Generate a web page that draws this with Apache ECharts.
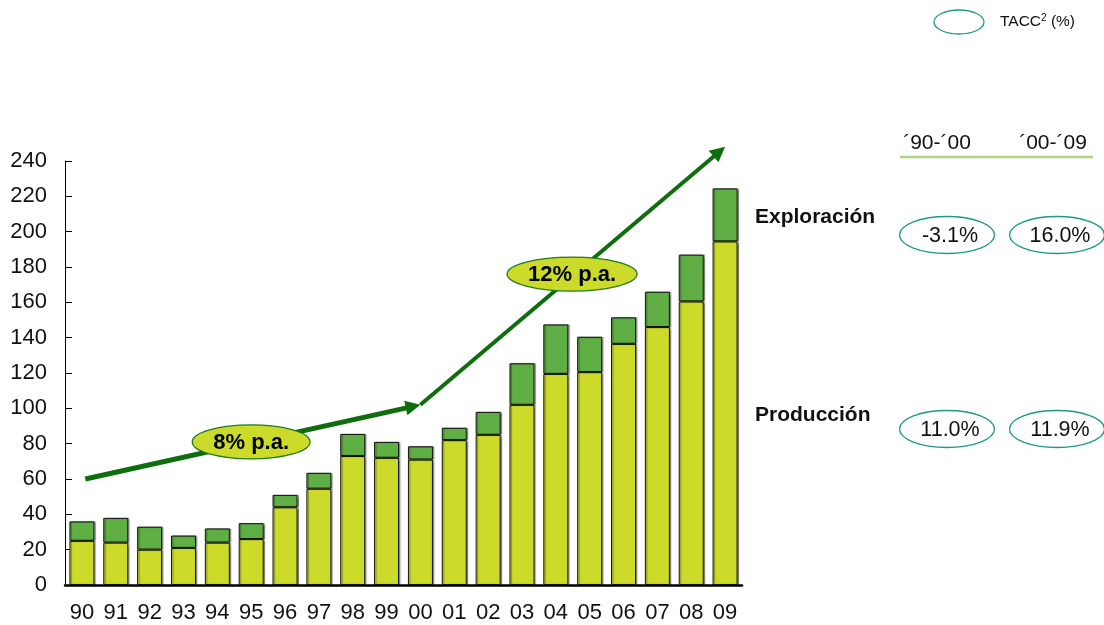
<!DOCTYPE html>
<html>
<head>
<meta charset="utf-8">
<script src="https://cdn.jsdelivr.net/npm/echarts@6/dist/echarts.min.js"></script>
<style>html,body{margin:0;padding:0;background:#fff}#c{width:1104px;height:625px}</style>
</head>
<body>
<div id="c"></div>
<script>
const years = ['90','91','92','93','94','95','96','97','98','99','00','01','02','03','04','05','06','07','08','09'];
const produccion = [25,24,20,21,24,26,44,54.5,73,72,71,82,85,102,119.5,120.5,136.5,146,160.5,194.5];
const exploracion = [11,14,13,7,8,9,7,9,12.5,9,7.5,7,13,23.5,28,20,15,20,26.5,30];
// growth arrows: [fromIndex, fromValue, toIndex, toValue]
const arrowSegments = [[0.1,60,10,102],[10,102,19,248]];
// growth bubbles: position in (category index, value)
const growthText = ['8% p.a.','12% p.a.'];
const growthX = [5,14.48];
const growthY = [81,176];
// TACC table
const taccTitle = 'TACC';
const taccPeriods = ['´90-´00','´00-´09'];
const taccRows = ['Exploración','Producción'];
const taccValues = [['-3.1%','16.0%'],['11.0%','11.9%']];

const FONT = 'Liberation Sans';
const DARK = '#0E6E0E';
const measureCtx = document.createElement('canvas').getContext('2d');
function textW(t, font){ measureCtx.font = font; return measureCtx.measureText(t).width; }

const chart = echarts.init(document.getElementById('c'), null, {renderer:'canvas'});

const graphics = [];
// legend
graphics.push({type:'ellipse', shape:{cx:959, cy:22, rx:25, ry:12}, style:{fill:'none', stroke:'#1C9A86', lineWidth:1.3}});
graphics.push({type:'text', x:1000, y:22, style:{text:'{a|'+taccTitle+'}{s|2}{a| (%)}', rich:{a:{fontFamily:FONT,fontSize:15.5,fill:'#111'}, s:{fontFamily:FONT,fontSize:10,fill:'#111',verticalAlign:'top',padding:[0,0,8,0]}}, verticalAlign:'middle'}});
// periods
const colX = [937, 1053];
const ellX = [947, 1057];
taccPeriods.forEach((p,i)=>{
  graphics.push({type:'text', x:colX[i], y:143, style:{text:p, fontFamily:FONT, fontSize:21, fill:'#111', align:'center', verticalAlign:'middle'}});
});
graphics.push({type:'line', shape:{x1:900, y1:157, x2:1093, y2:157}, style:{stroke:'#AAD583', lineWidth:2.5}});
const rowLabelY = [217, 415];
const rowEllY = [235, 429];
taccRows.forEach((r,j)=>{
  graphics.push({type:'text', x:755, y:rowLabelY[j], style:{text:r, fontFamily:FONT, fontSize:21, fontWeight:'bold', fill:'#111', verticalAlign:'middle'}});
  taccValues[j].forEach((v,i)=>{
    graphics.push({type:'ellipse', shape:{cx:ellX[i], cy:rowEllY[j], rx:47.5, ry:18.5}, style:{fill:'none', stroke:'#1C9A86', lineWidth:1.3}});
    graphics.push({type:'text', x:ellX[i]+3, y:rowEllY[j]+1, style:{text:v, fontFamily:FONT, fontSize:21.5, fill:'#111', align:'center', verticalAlign:'middle'}});
  });
});

const option = {
  animation:false,
  backgroundColor:'#fff',
  textStyle:{fontFamily:FONT},
  grid:{left:65, right:362, top:161, bottom:40, containLabel:false},
  xAxis:[{
    type:'category', data:years,
    axisLine:{lineStyle:{color:'#000', width:2.5}},
    axisTick:{show:false},
    axisLabel:{color:'#111', fontSize:22, margin:17, fontFamily:FONT}
  },{
    type:'value', min:-0.5, max:19.5, show:false
  }],
  yAxis:{
    type:'value', min:0, max:240, interval:20,
    axisLine:{show:true, onZero:false, lineStyle:{color:'#000', width:1}},
    axisTick:{show:true, inside:true, length:7, lineStyle:{color:'#000'}},
    axisLabel:{color:'#111', fontSize:22, margin:18, fontFamily:FONT},
    splitLine:{show:false}
  },
  graphic:graphics,
  series:[{
    name:'Producción', type:'bar', stack:'t', data:produccion, barWidth:25,
    itemStyle:{color:'#CCDA2A', borderColor:'#111', borderWidth:1, shadowColor:'rgba(0,0,0,0.35)', shadowOffsetX:1.5, shadowBlur:1}
  },{
    name:'Exploración', type:'bar', stack:'t', data:exploracion, barWidth:25,
    itemStyle:{color:'#60AF45', borderColor:'#111', borderWidth:1, shadowColor:'rgba(0,0,0,0.35)', shadowOffsetX:1.5, shadowBlur:1}
  },{
    type:'custom', xAxisIndex:1, clip:false, silent:true, z:5,
    data:arrowSegments,
    renderItem:function(params, api){
      const p0 = api.coord([api.value(0), api.value(1)]);
      const p1 = api.coord([api.value(2), api.value(3)]);
      const dx = p1[0]-p0[0], dy = p1[1]-p0[1];
      const len = Math.sqrt(dx*dx+dy*dy);
      const ux = dx/len, uy = dy/len;
      const L = 15, H = 7.5;
      const bx = p1[0]-ux*L, by = p1[1]-uy*L;
      return {type:'group', children:[
        {type:'line', shape:{x1:p0[0], y1:p0[1], x2:bx+ux*2, y2:by+uy*2}, style:{stroke:DARK, lineWidth:params.dataIndex===0?5:4}},
        {type:'polygon', shape:{points:[[p1[0],p1[1]],[bx-uy*H, by+ux*H],[bx+uy*H, by-ux*H]]}, style:{fill:DARK}}
      ]};
    }
  },{
    type:'custom', xAxisIndex:1, clip:false, silent:true, z:6,
    data:growthX.map((x,i)=>[x, growthY[i], i]),
    renderItem:function(params, api){
      const p = api.coord([api.value(0), api.value(1)]);
      const t = growthText[api.value(2)];
      const font = 'bold 22px "'+FONT+'"';
      const rx = textW(t, font)/2 + 21;
      return {type:'group', children:[
        {type:'ellipse', shape:{cx:p[0], cy:p[1], rx:rx, ry:17}, style:{fill:'#CCDA2A', stroke:'#1E7B1E', lineWidth:1.3}},
        {type:'text', x:p[0], y:p[1]+1, style:{text:t, fontFamily:FONT, fontSize:22, fontWeight:'bold', fill:'#000', align:'center', verticalAlign:'middle'}}
      ]};
    }
  }]
};
chart.setOption(option);
</script>
</body>
</html>
